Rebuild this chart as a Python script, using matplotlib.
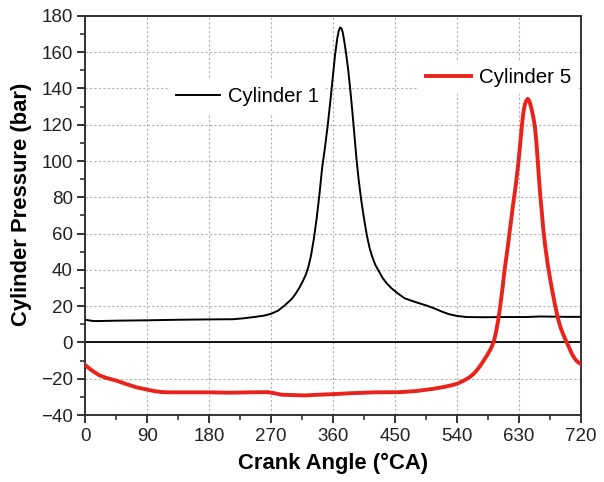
import matplotlib.pyplot as plt
from matplotlib.ticker import MultipleLocator
from matplotlib.lines import Line2D

plt.rcParams["font.family"] = ["Liberation Sans", "DejaVu Sans"]

# Cylinder 1 (black) - crank angle / pressure
cyl1_angle = [0, 5, 12, 20, 45, 90, 135, 180, 215, 230, 245, 260, 270, 280,
              290, 300, 305, 310, 315, 320, 324, 328, 332, 336, 340, 344, 348,
              352, 356, 360, 363, 366, 368, 370, 372, 374, 376, 378.6, 382,
              385, 388, 391, 394, 397, 401, 405, 409, 413, 417, 421, 426, 432,
              438, 445, 454, 464, 480, 496, 508, 518, 528, 540, 554, 580, 610,
              640, 660, 680, 700, 720]
cyl1_press = [12.5, 12.2, 11.8, 11.8, 12.0, 12.2, 12.5, 12.7, 12.8, 13.3,
              14.0, 14.8, 15.8, 17.5, 20.5, 24, 26.5, 29.5, 33, 37, 41.5, 48,
              57, 68, 81, 96, 107, 119, 133, 148, 159, 167.5, 171.5, 173.6,
              173.2, 171, 166.5, 160, 150, 139, 127, 114, 101, 90, 78, 68, 59,
              52, 47, 43, 39.5, 35.5, 32.5, 29.8, 27, 24.3, 22.2, 20.3, 18.6,
              17, 15.6, 14.6, 14.0, 13.9, 14.0, 14.0, 14.3, 14.2, 14.1, 14.1]

# Cylinder 5 (red)
cyl5_angle = [0, 5, 10, 20, 30, 45, 60, 75, 90, 100, 110, 120, 150, 180, 210,
              240, 265, 275, 285, 300, 320, 340, 360, 385, 420, 457, 480, 505,
              520, 530, 540, 550, 558, 564, 569, 574, 579, 584, 588, 591, 594,
              597, 600, 603, 606, 609, 613, 617, 621, 625, 629, 632, 634, 636,
              638, 640, 642.6, 645, 648, 651, 653, 655, 657, 659, 661, 663,
              665, 668, 672, 677, 682, 686, 690, 694, 698, 701, 704, 707, 711,
              715, 720]
cyl5_press = [-12.5, -14, -15.5, -18, -19.5, -21, -23, -24.8, -26, -26.8,
              -27.3, -27.5, -27.5, -27.5, -27.7, -27.5, -27.4, -28, -28.8,
              -29.0, -29.2, -28.8, -28.5, -28.0, -27.5, -27.4, -26.8, -25.6,
              -24.6, -23.8, -22.8, -21, -19.2, -17.3, -15.2, -12.7, -9.8,
              -6.8, -4.2, -1.8, 1.5, 6.5, 13, 21, 30, 40, 51, 63, 75, 86, 99,
              111, 119, 126, 130.5, 133, 134.3, 133, 129, 123.5, 119, 111,
              101, 90, 80, 72, 63, 53, 42, 31, 21, 14, 8.5, 4.5, 1, -1.5,
              -4, -6.5, -9, -10.7, -12]

fig = plt.figure(figsize=(6.04, 4.82), dpi=100)
ax = fig.add_axes([0.141, 0.139, 0.821, 0.828])

ax.grid(True, which="major", color="#b0b0b0", linestyle=(0, (2, 2)), linewidth=0.8)
ax.set_axisbelow(True)
ax.axhline(0, color="black", linewidth=1.3, zorder=2)

ax.plot(cyl1_angle, cyl1_press, color="black", linewidth=1.4, zorder=3)
ax.plot(cyl5_angle, cyl5_press, color="#e8231b", linewidth=2.8, zorder=3)

ax.set_xlim(0, 720)
ax.set_ylim(-40, 180)
ax.xaxis.set_major_locator(MultipleLocator(90))
ax.xaxis.set_minor_locator(MultipleLocator(45))
ax.yaxis.set_major_locator(MultipleLocator(20))
ax.yaxis.set_minor_locator(MultipleLocator(10))
ax.tick_params(which="major", direction="out", length=6, width=1.3,
               labelsize=13.5, colors="#222222", pad=3)
ax.tick_params(which="minor", direction="out", length=3.5, width=1.1, colors="#222222")
for s in ax.spines.values():
    s.set_linewidth(1.4)
    s.set_color("#333333")

ax.set_xlabel("Crank Angle (°CA)", fontsize=15.8, fontweight="bold", labelpad=6)
ax.set_ylabel("Cylinder Pressure (bar)", fontsize=15.8, fontweight="bold")
ax.yaxis.set_label_coords(-0.107, 0.527)

leg1 = ax.legend([Line2D([], [], color="black", linewidth=1.4)], ["Cylinder 1"],
                 loc="center left", bbox_to_anchor=(0.168, 0.797), fontsize=14.6,
                 handlelength=2.2, handletextpad=0.4, borderpad=0.35,
                 borderaxespad=0, frameon=True, framealpha=1,
                 edgecolor="none", facecolor="white", fancybox=False)
ax.add_artist(leg1)
ax.legend([Line2D([], [], color="#e8231b", linewidth=2.8)], ["Cylinder 5"],
          loc="center left", bbox_to_anchor=(0.672, 0.846), fontsize=14.8,
          handlelength=2.2, handletextpad=0.4, borderpad=0.35,
          borderaxespad=0, frameon=True, framealpha=1,
          edgecolor="none", facecolor="white", fancybox=False)

fig.savefig("out.png", dpi=100)
